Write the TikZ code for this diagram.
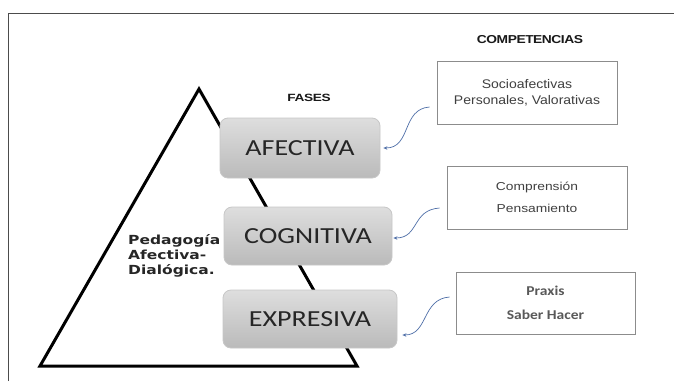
\documentclass[tikz,border=0pt]{standalone}
\usepackage{fontspec}
\setmainfont{Liberation Sans}
\newfontfamily\calibW[FakeStretch=1.22]{Carlito}
\newfontfamily\calibP[FakeStretch=1.15]{Carlito}
\newfontfamily\dvsW[FakeStretch=1.24]{DejaVu Sans}
\newfontfamily\arialW[FakeStretch=1.12]{Liberation Sans}
\newfontfamily\arialC[FakeStretch=1.2]{Liberation Sans}
\newfontfamily\headA[FakeStretch=1.2,LetterSpace=-4]{Liberation Sans}
\newfontfamily\headB[FakeStretch=1.3,LetterSpace=-3]{Liberation Sans}
\usetikzlibrary{calc,arrows.meta}
\definecolor{arrowc}{HTML}{4F6FA8}
\tikzset{
  fase/.style={rectangle, rounded corners=8pt, draw=black!22, line width=0.8pt,
    top color=black!13, bottom color=black!27, font=\calibW\fontsize{23}{23}\selectfont,
    text=black!85, anchor=center, inner sep=0pt},
  comp/.style={rectangle, draw=black!45, line width=1pt, fill=white, align=center, inner sep=0pt,
    text=black!75},
  link/.style={draw=arrowc, line width=0.7pt, -{Stealth[length=4pt,width=3.5pt]}},
}
\begin{document}
\begin{tikzpicture}[x=1pt,y=-1pt]
\useasboundingbox (0,0) rectangle (674,381);
\fill[white] (0,0) rectangle (674,381);
% frame
\draw[black!70, line width=1pt] (8,381) -- (8,13) -- (674,13);
% triangle
\draw[black, line width=3pt, line join=miter] (199,89) -- (357,366) -- (40,366) -- cycle;
% headings
\node[font=\headB\bfseries\fontsize{10.5}{10.5}\selectfont, text=black!90] (fases) at (309,98) {FASES};
\node[font=\headA\bfseries\fontsize{11.5}{11.5}\selectfont, text=black!90] (compet) at (530,40) {COMPETENCIAS};
% left text
\node[align=left, anchor=north west, font=\dvsW\bfseries\fontsize{12.5}{15}\selectfont, text=black!85, inner sep=0pt] (ped) at (128,234) {Pedagogía\\Afectiva-\\Dialógica.};
% phase boxes
\node[fase, minimum width=160pt, minimum height=60pt] (afe) at (300,148) {AFECTIVA};
\node[fase, minimum width=168pt, minimum height=58pt] (cog) at (308,236) {COGNITIVA};
\node[fase, minimum width=174pt, minimum height=58pt] (exp) at (310,319) {EXPRESIVA};
% competence boxes
\node[comp, minimum width=180pt, minimum height=63pt, font=\arialW\fontsize{12.5}{16}\selectfont] (c1) at (527,92.5) {Socioafectivas\\Personales, Valorativas};
\node[comp, minimum width=180pt, minimum height=63pt, font=\arialC\fontsize{11.5}{22}\selectfont] (c2) at (537,197.5) {Comprensión\\Pensamiento};
\node[comp, minimum width=179pt, minimum height=62pt, font=\calibP\bfseries\fontsize{13.5}{24}\selectfont, text=black!65] (c3) at (545.5,303) {Praxis\\Saber Hacer};
% connectors
\coordinate (s1) at ($(c1.west)+(-7,14.5)$);
\coordinate (s2) at ($(c2.west)+(-7,10.5)$);
\coordinate (s3) at ($(c3.west)+(-6,-6)$);
\coordinate (t1) at ($(afe.east)+(3,0)$);
\coordinate (t2) at ($(cog.east)+(1,2)$);
\coordinate (t3) at ($(exp.east)+(5,16)$);
\draw[link] (s1) .. controls +(-28,2) and +(28,0) .. (t1);
\draw[link] (s2) .. controls +(-28,2) and +(26,0) .. (t2);
\draw[link] (s3) .. controls +(-28,2) and +(26,0) .. (t3);
\end{tikzpicture}
\end{document}
